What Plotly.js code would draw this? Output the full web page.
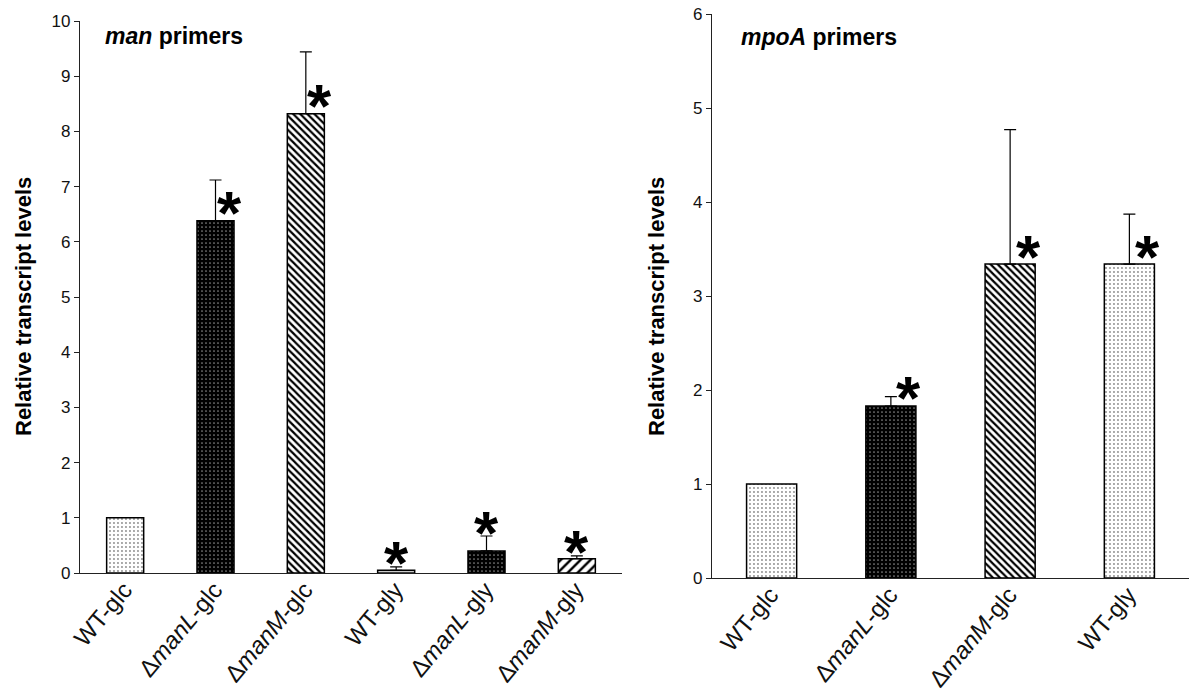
<!DOCTYPE html>
<html>
<head>
<meta charset="utf-8">
<script src="https://cdn.plot.ly/plotly-3.0.1.min.js"></script>
<style>html,body{margin:0;padding:0;background:#fff}#chart{width:1191px;height:693px}</style>
</head>
<body>
<div id="chart"></div>
<script>
// ---- data: man primers (left panel) ----
const manCats = ['WT-glc', 'dmanL-glc', 'dmanM-glc', 'WT-gly', 'dmanL-gly', 'dmanM-gly'];
const manLabels = ['WT-glc', 'Δ<i>manL</i>-glc', 'Δ<i>manM</i>-glc', 'WT-gly', 'Δ<i>manL</i>-gly', 'Δ<i>manM</i>-gly'];
const manValues = [1.0, 6.38, 8.32, 0.05, 0.40, 0.26];
const manErrors = [0, 0.74, 1.12, 0.06, 0.27, 0.05];
const manStars = ['', 'side', 'side', 'top', 'top', 'top'];

// ---- data: mpoA primers (right panel) ----
const mpoCats = ['WT-glc', 'dmanL-glc', 'dmanM-glc', 'WT-gly'];
const mpoLabels = ['WT-glc', 'Δ<i>manL</i>-glc', 'Δ<i>manM</i>-glc', 'WT-gly'];
const mpoValues = [1.0, 1.83, 3.34, 3.34];
const mpoErrors = [0, 0.10, 1.43, 0.53];
const mpoStars = ['', 'side', 'side', 'side'];

const FONT = 'Liberation Sans, Arial, Helvetica, sans-serif';

// fill style per condition
const styles = {
  'WT-glc':    {shape: '.',  bg: '#ffffff', fg: '#8c8c8c', size: 4, sol: 0.18},
  'dmanL-glc': {shape: '.',  bg: '#000000', fg: '#8c8c8c', size: 4, sol: 0.14},
  'dmanM-glc': {shape: '\\', bg: '#ffffff', fg: '#000000', size: 5, sol: 0.45},
  'WT-gly':    {shape: '-',  bg: '#ffffff', fg: '#777777', size: 4, sol: 0.2},
  'dmanL-gly': {shape: '.',  bg: '#000000', fg: '#8c8c8c', size: 4, sol: 0.14},
  'dmanM-gly': {shape: '/',  bg: '#ffffff', fg: '#000000', size: 7, sol: 0.35}
};
const mpoStyleKeys = ['WT-glc', 'dmanL-glc', 'dmanM-glc', 'WT-glc'];

function barTraces(cats, vals, errs, styleKeys, xa, ya, width) {
  return cats.map((c, i) => {
    const s = styles[styleKeys[i]];
    return {
      type: 'bar', x: [c], y: [vals[i]], xaxis: xa, yaxis: ya, width: width,
      marker: {
        color: s.bg,
        line: {color: '#000', width: 1.5},
        pattern: {shape: s.shape, bgcolor: s.bg, fgcolor: s.fg, size: s.size,
                  solidity: s.sol, fillmode: 'replace'}
      },
      error_y: {type: 'data', symmetric: false, array: [errs[i]], arrayminus: [0],
                color: '#000', thickness: 1.2, width: 6, visible: errs[i] > 0},
      hoverinfo: 'x+y', showlegend: false
    };
  });
}

const traces = [].concat(
  barTraces(manCats, manValues, manErrors, manCats, 'x', 'y', 0.41),
  barTraces(mpoCats, mpoValues, mpoErrors, mpoStyleKeys, 'x2', 'y2', 0.42)
);

function starAnnots(cats, vals, errs, stars, xr, yr, sideShift) {
  const out = [];
  cats.forEach((c, i) => {
    if (!stars[i]) return;
    const side = stars[i] === 'side';
    out.push({
      xref: xr, yref: yr, x: c, y: side ? vals[i] : vals[i] + errs[i],
      text: '<b>*</b>', showarrow: false, xanchor: 'center', yanchor: 'middle',
      xshift: side ? sideShift : 0, yshift: side ? 8 : 4,
      font: {family: FONT, size: 62, color: '#000'}
    });
  });
  return out;
}

const annotations = [
  {xref: 'paper', yref: 'paper', x: 103 / 1191, y: 1 - 36 / 693, xanchor: 'left', yanchor: 'middle',
   text: '<b><i>man</i> primers</b>', showarrow: false, font: {family: FONT, size: 23, color: '#000'}},
  {xref: 'paper', yref: 'paper', x: 739 / 1191, y: 1 - 37 / 693, xanchor: 'left', yanchor: 'middle',
   text: '<b><i>mpoA</i> primers</b>', showarrow: false, font: {family: FONT, size: 23, color: '#000'}},
  {xref: 'paper', yref: 'paper', x: 23 / 1191, y: 1 - 307 / 693, xanchor: 'center', yanchor: 'middle',
   text: '<b>Relative transcript levels</b>', textangle: -90, showarrow: false,
   font: {family: FONT, size: 22, color: '#000'}},
  {xref: 'paper', yref: 'paper', x: 656 / 1191, y: 1 - 307 / 693, xanchor: 'center', yanchor: 'middle',
   text: '<b>Relative transcript levels</b>', textangle: -90, showarrow: false,
   font: {family: FONT, size: 22, color: '#000'}}
].concat(
  starAnnots(manCats, manValues, manErrors, manStars, 'x', 'y', 14),
  starAnnots(mpoCats, mpoValues, mpoErrors, mpoStars, 'x2', 'y2', 18)
);

const xBase = {showline: true, linecolor: '#222', linewidth: 1.2, ticks: '', showgrid: false,
               zeroline: false, tickangle: -50, tickmode: 'array', type: 'category',
               ticklabelstandoff: -8, ticklabelshift: -1,
               tickfont: {family: FONT, size: 24, color: '#111'}};
const yBase = {showline: true, linecolor: '#222', linewidth: 1.2, ticks: 'outside', ticklen: 5,
               tickwidth: 1, tickcolor: '#222', showgrid: false, zeroline: false, dtick: 1,
               tickfont: {family: FONT, size: 17, color: '#111'}};

const layout = {
  width: 1191, height: 693,
  margin: {l: 0, r: 0, t: 0, b: 0},
  paper_bgcolor: '#fff', plot_bgcolor: 'rgba(0,0,0,0)',
  font: {family: FONT},
  barmode: 'overlay',
  xaxis: Object.assign({}, xBase, {domain: [80 / 1191, 622 / 1191], anchor: 'y', range: [-0.5, 5.5],
                                   tickvals: manCats, ticktext: manLabels,
                                   categoryorder: 'array', categoryarray: manCats}),
  yaxis: Object.assign({}, yBase, {domain: [1 - 573 / 693, 1 - 21 / 693], anchor: 'x', range: [0, 10]}),
  xaxis2: Object.assign({}, xBase, {domain: [712 / 1191, 1189 / 1191], anchor: 'y2', range: [-0.5, 3.5],
                                    tickvals: mpoCats, ticktext: mpoLabels,
                                    categoryorder: 'array', categoryarray: mpoCats}),
  yaxis2: Object.assign({}, yBase, {domain: [1 - 578 / 693, 1 - 14 / 693], anchor: 'x2', range: [0, 6]}),
  annotations: annotations
};

Plotly.newPlot('chart', traces, layout, {displayModeBar: false, staticPlot: true});
</script>
</body>
</html>
